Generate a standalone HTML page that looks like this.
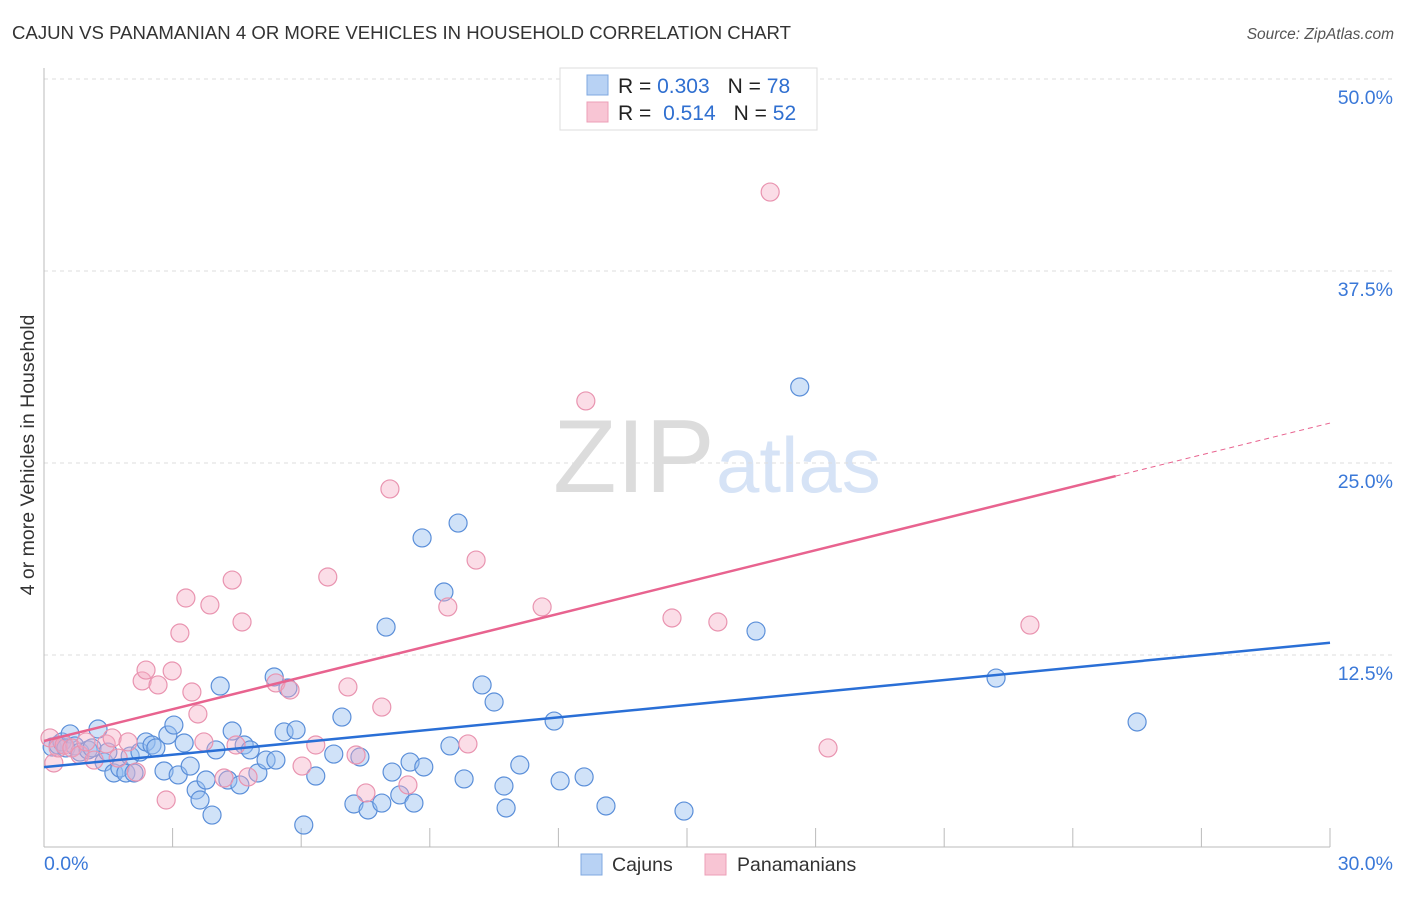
<!DOCTYPE html>
<html><head><meta charset="utf-8"><style>
body{margin:0;background:#fff;width:1406px;height:892px;overflow:hidden;font-family:"Liberation Sans",sans-serif;}
svg text{font-family:"Liberation Sans",sans-serif;}
</style></head><body>
<svg id="chart" width="1406" height="892" viewBox="0 0 1406 892" xmlns="http://www.w3.org/2000/svg">
<text x="12" y="39" font-size="18.6" fill="#333">CAJUN VS PANAMANIAN 4 OR MORE VEHICLES IN HOUSEHOLD CORRELATION CHART</text>
<text x="1394" y="39" font-size="15.5" fill="#555" font-style="italic" text-anchor="end">Source: ZipAtlas.com</text>
<g>
<text x="553" y="492" font-size="104" font-family="Liberation Serif, serif" fill="#dcdcdc">ZIP</text>
<text x="716" y="492" font-size="78" fill="#d6e3f6">atlas</text>
</g>
<g id="grid"></g>
<g id="axes"></g>
<text transform="translate(34,455) rotate(-90)" font-size="19.5" fill="#333" text-anchor="middle">4 or more Vehicles in Household</text>
<g id="points"></g>
<g id="trends"></g>
<g>
<rect x="560" y="68" width="257" height="62" fill="#fff" stroke="#ddd"/>
<rect x="587" y="75" width="21" height="20" fill="#b8d2f4" stroke="#7fa8e0"/>
<rect x="587" y="102" width="21" height="20" fill="#f8c5d4" stroke="#ec9fb7"/>
<text x="618" y="93" font-size="21" fill="#222">R = <tspan fill="#2f6fd0">0.303</tspan><tspan dx="18">N = </tspan><tspan fill="#2f6fd0">78</tspan></text>
<text x="618" y="120" font-size="21" fill="#222">R = <tspan dx="6" fill="#2f6fd0">0.514</tspan><tspan dx="18">N = </tspan><tspan fill="#2f6fd0">52</tspan></text>
</g>
<g>
<rect x="581" y="854" width="21" height="21" fill="#b8d2f4" stroke="#7fa8e0"/>
<text x="612" y="871" font-size="19.5" fill="#333">Cajuns</text>
<rect x="705" y="854" width="21" height="21" fill="#f8c5d4" stroke="#ec9fb7"/>
<text x="737" y="871" font-size="19.5" fill="#333">Panamanians</text>
</g>
</svg>
<script>
const blueX=[0.19,0.33,0.42,0.61,0.51,0.72,0.84,1.03,1.12,1.26,1.40,1.49,1.63,1.77,1.91,2.01,2.10,2.24,2.38,2.52,2.61,2.80,2.89,3.03,3.13,3.27,3.41,3.55,3.64,3.78,3.92,4.01,4.11,4.29,4.39,4.57,4.67,4.81,4.99,5.18,5.37,5.41,5.60,5.69,5.88,6.06,6.34,6.76,6.95,7.23,7.37,7.56,7.88,7.98,8.12,8.30,8.54,8.63,8.82,8.86,9.33,9.47,9.66,9.80,10.22,10.50,10.73,10.78,11.10,11.90,12.04,12.60,13.11,14.93,16.61,17.63,22.21,25.50];
const blueY=[6.51,6.64,6.84,7.36,6.45,6.58,6.18,6.32,6.45,7.68,5.53,6.18,4.82,5.14,4.82,5.92,4.82,6.18,6.84,6.64,6.45,4.95,7.29,7.94,4.69,6.77,5.27,3.71,3.06,4.36,2.08,6.32,10.48,4.36,7.55,4.04,6.64,6.32,4.82,5.66,11.07,5.66,7.49,10.35,7.62,1.43,4.62,6.05,8.46,2.80,5.86,2.41,2.86,14.32,4.88,3.39,5.53,2.86,20.12,5.21,16.60,6.58,21.09,4.43,10.55,9.44,3.97,2.54,5.34,8.20,4.30,4.56,2.67,2.34,14.06,29.95,11.00,8.14];
const pinkX=[0.14,0.23,0.33,0.47,0.65,0.84,0.98,1.17,1.45,1.59,1.73,1.96,2.15,2.29,2.38,2.66,2.85,2.99,3.17,3.31,3.45,3.59,3.73,3.87,4.20,4.39,4.48,4.62,4.76,5.41,5.74,6.02,6.34,6.62,7.09,7.28,7.51,7.88,8.07,8.49,9.42,9.89,10.08,11.62,12.64,14.65,15.72,16.94,18.29,23.00];
const pinkY=[7.10,5.47,6.45,6.64,6.45,5.99,6.84,5.66,6.71,7.10,5.79,6.84,4.88,10.81,11.52,10.55,3.06,11.46,13.93,16.21,10.09,8.66,6.84,15.76,4.49,17.38,6.64,14.65,4.56,10.68,10.22,5.27,6.64,17.58,10.42,5.99,3.52,9.11,23.31,4.04,15.63,6.71,18.68,15.63,29.04,14.91,14.65,42.64,6.45,14.45];
const blueTrend=[5.2,13.3];   // y at x=0 and x=30
const pinkTrend=[6.9,27.6];   // y at x=0 and x=30
const pinkSolidEnd=25;
const yTicks=[12.5,25,37.5,50];
const yTickLabels=["12.5%","25.0%","37.5%","50.0%"];
const xTicks=[3,6,9,12,15,18,21,24,27,30];

const NS="http://www.w3.org/2000/svg";
const X0=44,X1=1330,Y0=847,Y1=79;
const sx=v=>X0+(v/30)*(X1-X0);
const sy=v=>Y0-(v/50)*(Y0-Y1);
function mk(tag,attrs,parent){const e=document.createElementNS(NS,tag);for(const k in attrs)e.setAttribute(k,attrs[k]);parent.appendChild(e);return e;}
const grid=document.getElementById('grid'),axes=document.getElementById('axes');
yTicks.forEach((t,i)=>{
  const l=mk('line',{x1:X0,x2:1394,y1:sy(t),y2:sy(t),stroke:'#ddd','stroke-dasharray':'4,4'},grid);
  
  
  const tx=mk('text',{x:1393,y:sy(t)+25,'font-size':'19.5',fill:'#3a78d8','text-anchor':'end'},axes);
  tx.textContent=yTickLabels[i];
  
  
});
mk('line',{x1:X0,x2:X0,y1:68,y2:Y0,stroke:'#bbb'},axes);
mk('line',{x1:X0,x2:X1,y1:Y0,y2:Y0,stroke:'#bbb'},axes);
xTicks.forEach(t=>{
  const l=mk('line',{x1:sx(t),x2:sx(t),y1:828,y2:Y0,stroke:'#bbb'},axes);
  
  
});
const xl0=mk('text',{x:44,y:870,'font-size':'19.5',fill:'#3a78d8'},axes);xl0.textContent='0.0%';


const xl1=mk('text',{x:1393,y:870,'font-size':'19.5',fill:'#3a78d8','text-anchor':'end'},axes);xl1.textContent='30.0%';


const pts=document.getElementById('points');
blueX.forEach((x,i)=>{
  const c=mk('circle',{cx:sx(x),cy:sy(blueY[i]),r:9,fill:'rgba(150,190,240,0.45)',stroke:'#5b8fd9','stroke-width':1.2},pts);
  
  
});
pinkX.forEach((x,i)=>{
  const c=mk('circle',{cx:sx(x),cy:sy(pinkY[i]),r:9,fill:'rgba(245,170,195,0.4)',stroke:'#e994b0','stroke-width':1.2},pts);
  
  
});
const tr=document.getElementById('trends');
const bt=mk('line',{x1:sx(0),y1:sy(blueTrend[0]),x2:sx(30),y2:sy(blueTrend[1]),stroke:'#2a6fd6','stroke-width':2.5},tr);


const py=x=>pinkTrend[0]+(pinkTrend[1]-pinkTrend[0])*x/30;
const pt=mk('line',{x1:sx(0),y1:sy(py(0)),x2:sx(pinkSolidEnd),y2:sy(py(pinkSolidEnd)),stroke:'#e8638f','stroke-width':2.5},tr);


const pd=mk('line',{x1:sx(pinkSolidEnd),y1:sy(py(pinkSolidEnd)),x2:sx(30),y2:sy(py(30)),stroke:'#e8638f','stroke-width':1,'stroke-dasharray':'5,4'},tr);


</script>
</body></html>
